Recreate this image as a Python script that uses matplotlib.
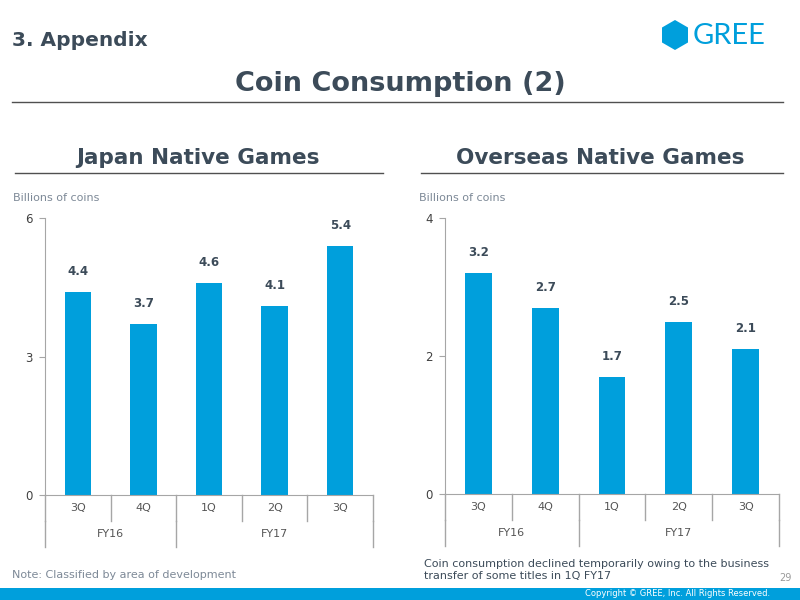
import matplotlib
matplotlib.use("Agg")
from matplotlib import pyplot as plt
from matplotlib.patches import Rectangle, Polygon
from matplotlib.lines import Line2D
import numpy as np

# data
quarters = ["3Q", "4Q", "1Q", "2Q", "3Q"]
fiscal_years = ["FY16", "FY17"]
fy_sizes = [2, 3]
japan_values = [4.4, 3.7, 4.6, 4.1, 5.4]
overseas_values = [3.2, 2.7, 1.7, 2.5, 2.1]
japan_ticks = [0, 3, 6]
overseas_ticks = [0, 2, 4]

DARK = "#3c4b59"
BLUE = "#009fdc"
GREY = "#7d8997"
AXIS = "#a6a6a6"

W, H = 800, 600
fig = plt.figure(figsize=(8, 6), dpi=100, facecolor="white")


def fx(px):
    return px / W


def fy(py):
    return 1 - py / H


# header
fig.text(fx(12), fy(41), "3. Appendix", fontsize=14.5, fontweight="bold",
         color=DARK, va="center", ha="left")
fig.text(fx(400), fy(84), "Coin Consumption (2)", fontsize=19.5, fontweight="bold",
         color=DARK, va="center", ha="center")
fig.add_artist(Line2D([fx(12), fx(783)], [fy(102), fy(102)], color="#505050", lw=1))

# logo
ang = np.pi / 2 + np.arange(6) * np.pi / 3
hexagon = [(fx(675 + 15 * np.cos(a)), fy(35 - 15 * np.sin(a))) for a in ang]
fig.add_artist(Polygon(hexagon, closed=True, facecolor=BLUE, edgecolor="none",
                       transform=fig.transFigure))
fig.text(fx(693), fy(36), "GREE", fontsize=21, color=BLUE, family="Lato",
         va="center", ha="left")

# footer
fig.add_artist(Rectangle((0, 0), 1, 12 / H, facecolor=BLUE,
                         edgecolor="none", transform=fig.transFigure))
fig.text(fx(770), fy(594), "Copyright \u00a9 GREE, Inc. All Rights Reserved.",
         fontsize=6, color="white", ha="right", va="center")
fig.text(fx(792), fy(578), "29", fontsize=7, color="#9a9a9a", ha="right", va="center")

fig.text(fx(12), fy(575), "Note: Classified by area of development",
         fontsize=8, color=GREY, ha="left", va="center")
fig.text(fx(424), fy(570), "Coin consumption declined temporarily owing to the business\n"
         "transfer of some titles in 1Q FY17",
         fontsize=8, color=DARK, ha="left", va="center", linespacing=1.35)


def panel(title, tx, lx0, lx1, box, values, ticks):
    fig.text(fx(tx), fy(158), title, fontsize=15.5, fontweight="bold", color=DARK,
             ha="center", va="center")
    fig.add_artist(Line2D([fx(lx0), fx(lx1)], [fy(173), fy(173)], color="#505050", lw=1))
    fig.text(fx(lx0 - 2), fy(198), "Billions of coins", fontsize=8, color=GREY,
             ha="left", va="center")

    x0, y0, x1, y1 = box
    ax = fig.add_axes([fx(x0), fy(y1), fx(x1 - x0), (y1 - y0) / H])
    n = len(values)
    x = np.arange(n)
    ax.bar(x, values, width=0.4, color=BLUE)
    ax.set_xlim(-0.5, n - 0.5)
    ax.set_ylim(ticks[0], ticks[-1])
    ax.set_yticks(ticks)
    ax.set_xticks([])
    for s in ["top", "right"]:
        ax.spines[s].set_visible(False)
    for s in ["left", "bottom"]:
        ax.spines[s].set_color(AXIS)
    ax.tick_params(axis="y", length=4, color=AXIS, labelsize=8.5,
                   labelcolor="#404040", pad=5)

    for xi, v in zip(x, values):
        ax.annotate(f"{v:.1f}", (xi, v), xytext=(0, 10), textcoords="offset points",
                    ha="center", va="bottom", fontsize=8.5, fontweight="bold",
                    color=DARK)

    # category axis below
    tr = ax.get_xaxis_transform()
    row = 26 / (y1 - y0)
    for xi, q in zip(x, quarters):
        ax.text(xi, -row / 2, q, transform=tr, ha="center", va="center",
                fontsize=8, color="#555555")
    for b in np.arange(n + 1) - 0.5:
        ax.plot([b, b], [0, -row], transform=tr, color=AXIS, lw=1, clip_on=False)
    edges = np.concatenate([[0], np.cumsum(fy_sizes)]) - 0.5
    for b in edges:
        ax.plot([b, b], [-row, -2 * row], transform=tr, color=AXIS, lw=1, clip_on=False)
    for i, name in enumerate(fiscal_years):
        mid = (edges[i] + edges[i + 1]) / 2
        ax.text(mid, -1.5 * row, name, transform=tr, ha="center", va="center",
                fontsize=8, color="#555555")
    return ax


panel("Japan Native Games", 198, 15, 383, (45, 218, 373, 495),
      japan_values, japan_ticks)
panel("Overseas Native Games", 600, 421, 783, (445, 218, 779, 494),
      overseas_values, overseas_ticks)

plt.savefig("out.png", dpi=100, facecolor="white")
